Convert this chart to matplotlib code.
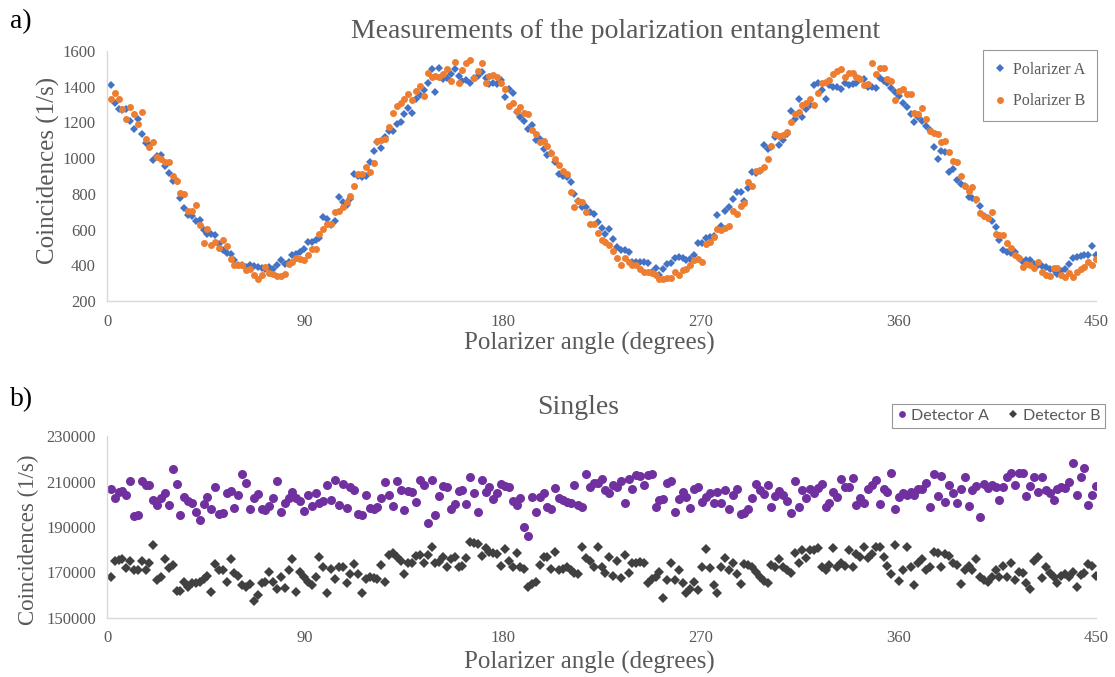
import matplotlib
matplotlib.use("Agg")
import matplotlib.pyplot as plt
import numpy as np


# Polarizer angle grid: 256 equally spaced settings up to 450 degrees
n_angles = 256
angles = np.arange(1, n_angles + 1) * 450.0 / n_angles

# a) coincidences, 1/s
polarizer_a = [
    1408, 1308, 1278, 1270, 1278, 1210, 1166, 1218, 1138, 1084,
    1075, 987, 1010, 1017, 958, 917, 870, 870, 779, 723,
    682, 678, 650, 655, 598, 576, 575, 570, 520, 483,
    470, 464, 430, 399, 399, 390, 399, 395, 393, 385,
    377, 390, 377, 399, 432, 408, 420, 458, 465, 473,
    490, 533, 533, 540, 552, 669, 660, 626, 650, 784,
    753, 740, 771, 911, 900, 892, 900, 980, 1040, 1088,
    1056, 1120, 1153, 1153, 1190, 1203, 1250, 1283, 1255, 1330,
    1352, 1380, 1423, 1501, 1371, 1507, 1442, 1450, 1470, 1498,
    1460, 1432, 1440, 1423, 1450, 1460, 1483, 1450, 1414, 1420,
    1414, 1438, 1340, 1390, 1364, 1260, 1230, 1209, 1162, 1185,
    1103, 1107, 1050, 1017, 1028, 976, 911, 900, 892, 868,
    799, 760, 725, 725, 697, 688, 640, 608, 576, 604,
    548, 501, 488, 488, 477, 418, 418, 420, 418, 414,
    365, 384, 343, 380, 408, 414, 440, 445, 440, 427,
    436, 455, 526, 526, 552, 560, 563, 682, 622, 706,
    725, 770, 812, 812, 762, 831, 920, 917, 930, 1073,
    1051, 1060, 1121, 1073, 1100, 1134, 1265, 1222, 1334, 1228,
    1274, 1300, 1408, 1423, 1380, 1334, 1408, 1401, 1401, 1390,
    1423, 1408, 1415, 1423, 1442, 1442, 1401, 1401, 1395, 1451,
    1430, 1423, 1395, 1371, 1349, 1311, 1289, 1250, 1200, 1233,
    1209, 1180, 1159, 1060, 995, 1041, 1036, 924, 939, 880,
    855, 846, 781, 775, 768, 734, 678, 665, 650, 613,
    539, 483, 477, 470, 473, 440, 418, 427, 427, 410,
    399, 395, 390, 380, 371, 352, 370, 377, 408, 440,
    445, 450, 458, 458, 507, 455,
]

polarizer_b = [
    1334, 1367, 1334, 1278, 1222, 1289, 1246, 1190, 1259, 1107,
    1060, 1092, 1008, 995, 976, 976, 902, 874, 803, 800,
    706, 706, 738, 626, 526, 604, 515, 529, 496, 539,
    507, 436, 399, 399, 399, 371, 377, 347, 321, 343,
    390, 358, 352, 339, 339, 352, 408, 418, 440, 436,
    432, 455, 492, 492, 576, 604, 632, 632, 697, 706,
    725, 755, 790, 842, 911, 911, 948, 924, 972, 1097,
    1100, 1107, 1172, 1255, 1293, 1308, 1330, 1358, 1326, 1377,
    1404, 1349, 1475, 1457, 1460, 1457, 1470, 1498, 1432, 1539,
    1423, 1494, 1535, 1550, 1451, 1488, 1531, 1423, 1460, 1464,
    1457, 1423, 1386, 1293, 1308, 1265, 1289, 1255, 1246, 1159,
    1135, 1088, 1097, 1066, 1030, 995, 960, 930, 911, 809,
    725, 762, 757, 697, 632, 632, 580, 539, 529, 515,
    480, 440, 403, 440, 418, 399, 403, 377, 362, 360,
    358, 347, 321, 321, 330, 328, 365, 347, 371, 380,
    399, 432, 436, 421, 520, 529, 560, 604, 595, 608,
    622, 706, 688, 734, 749, 864, 842, 930, 935, 948,
    995, 1069, 1135, 1125, 1130, 1144, 1203, 1246, 1259, 1297,
    1310, 1330, 1297, 1367, 1420, 1427, 1440, 1470, 1488, 1498,
    1457, 1475, 1479, 1457, 1446, 1408, 1414, 1531, 1470, 1507,
    1507, 1442, 1432, 1326, 1377, 1390, 1358, 1358, 1255, 1246,
    1283, 1218, 1153, 1140, 1135, 1088, 1097, 1032, 986, 976,
    898, 846, 818, 836, 772, 693, 678, 663, 700, 576,
    570, 567, 526, 496, 458, 440, 390, 408, 399, 384,
    418, 365, 347, 339, 384, 384, 343, 334, 358, 334,
    365, 380, 390, 418, 399, 436,
]

# b) singles, 1/s
detector_a = [
    206560, 202900, 205500, 206000, 204070, 210220, 194840, 195280, 210220, 208460,
    208460, 201870, 199680, 202600, 204800, 199680, 215500, 208900, 195280, 203050,
    201580, 200700, 196750, 193080, 200120, 203340, 197770, 207730, 195720, 196010,
    204800, 205970, 198210, 204070, 213300, 209490, 197770, 202600, 204360, 197770,
    197480, 199240, 202900, 210370, 196750, 200700, 202600, 205500, 202600, 201580,
    197040, 204070, 199240, 205100, 200700, 201580, 208460, 201870, 210660, 199680,
    208900, 198210, 207730, 206270,
    195570, 195280, 204070, 198210, 197770, 198940, 202600, 209930, 204070, 199240,
    210220, 206270, 197480, 205970, 205530, 201140, 210660, 208460, 191620, 210660,
    195280, 203630, 208020, 207440, 197770, 200120, 205830, 206270, 200120, 212130,
    204800, 196750, 210660, 205530, 207440, 202170, 205100, 208900, 208020, 207730,
    201580, 199680, 202600, 190150, 186050, 203050, 196750, 203340, 205100, 198940,
    197770, 207290, 202600, 201870, 201140, 200700, 208460, 199680, 198650, 213150,
    207730, 209200, 209490, 210950,
    206270, 205100, 208460, 207730, 210370, 200700, 210950, 206560, 212860, 212420,
    208460, 212860, 213300, 198650, 201870, 202170, 209490, 210370, 196750, 202170,
    205530, 203340, 198210, 206560, 207440, 201140, 203340, 204800, 200410, 205530,
    200410, 206270, 197770, 204070, 206560, 195720, 196310, 197770, 202600, 208900,
    206270, 204510, 208460, 198940, 203630, 205970, 204070, 201430, 196010, 210370,
    198650, 206270, 202600, 206560, 205100, 207000, 208900, 198940, 200700, 205530,
    203050, 210950, 207440, 207440, 211400,
    199680, 202600, 200700, 206560, 208460, 210660, 200120, 206560, 205530, 213880,
    197770, 203340, 204800, 204070, 205530, 204070, 206560, 206560, 209200, 198940,
    213300, 203630, 212420, 201140, 208460, 205100, 200410, 206560, 211840, 199240,
    206270, 208020, 194250, 208900, 207000, 208460, 207440, 201870, 207440, 212130,
    213590, 208460, 213880, 213590, 203630, 208020, 211840, 205530, 211840, 206270,
    205100, 201870, 206560, 207730, 207000, 209930, 218280, 204070, 212130, 215790,
    199680, 204070, 208020,
]

detector_b = [
    168180, 175000, 175500, 175800, 172000, 175000, 171000, 171000, 175000, 171000,
    174000, 182000, 166700, 167900, 176000, 172000, 173300, 162000, 162000, 166000,
    163800, 165200, 165500, 166000, 167000, 168500, 161300, 173600, 171000, 171000,
    166000, 175800, 169600, 168600, 164500, 163800, 165000, 157600, 160100, 165200,
    166000, 170400, 166000, 162600, 168200, 163000, 171000, 175800, 161600, 170400,
    168200, 166000, 164500, 168200, 176700, 172600, 160800, 171400, 167200, 172300,
    172600, 165200, 169400, 173600,
    169350, 161140, 167000, 168180, 167440, 167000, 173300, 165980, 177700, 178430,
    176970, 175210, 169350, 174330, 174040, 177260, 177700, 174040, 177700, 181070,
    174040, 174770, 176970, 172570, 175800, 176670, 172280, 172870, 176240, 183560,
    183120, 182540, 177260, 180630, 179160, 178430, 178140, 172870, 180190, 175210,
    172570, 178430, 172280, 171400, 163790, 164960, 165980, 173300, 176670, 176670,
    171400, 179160, 171110, 171400, 172570, 171110, 169640, 169350, 181360, 176240,
    175210, 172280, 181070, 172280,
    169930, 176970, 168470, 175210, 167440, 177700, 169640, 174330, 174040, 174770,
    174330, 165250, 167000, 168180, 170380, 158660, 166710, 174040, 166710, 171110,
    165540, 160860, 162610, 165980, 162320, 172570, 180190, 171840, 164520, 161140,
    172570, 176240, 171110, 174040, 169350, 164960, 173740, 173300, 172280, 170380,
    168180, 166420, 165540, 173300, 172570, 175800, 172280, 171110, 169930, 178730,
    174040, 179900, 176240, 179900, 179900, 180630, 172280, 171110, 173300, 180630,
    172570, 174040, 172870, 179900, 172570,
    178140, 176970, 181070, 176240, 178140, 181360, 181070, 176970, 172870, 169350,
    182100, 166420, 171110, 181360, 172280, 164520, 174040, 175800, 171110, 172280,
    179160, 178430, 172570, 178140, 177260, 174040, 173300, 164960, 171110, 172870,
    171110, 175800, 168180, 166710, 165980, 168180, 171110, 167880, 172870, 168180,
    174040, 166710, 170380, 169930, 165250, 162610, 175210, 176670, 167440, 172280,
    169640, 168180, 165250, 168470, 169350, 168180, 170380, 163500, 168910, 169640,
    173740, 172870, 168470,
]

for name, values in [("polarizer_a", polarizer_a), ("polarizer_b", polarizer_b),
                     ("detector_a", detector_a), ("detector_b", detector_b)]:
    if len(values) != n_angles:
        raise ValueError(f"{name} has {len(values)} values, expected {n_angles}")

x_ticks = [0, 90, 180, 270, 360, 450]
top_yticks = [200, 400, 600, 800, 1000, 1200, 1400, 1600]
bottom_yticks = [150000, 170000, 190000, 210000, 230000]

serif = "Liberation Serif"
text_grey = "#595959"
axis_grey = "#D9D9D9"

plt.rcParams.update({
    "font.family": serif,
    "font.size": 12,
})

W, H = 1115, 677
fig = plt.figure(figsize=(W / 100, H / 100), dpi=100)


def px_axes(x0, y0, x1, y1):
    # pixel box (top-left origin) -> figure axes
    return fig.add_axes([x0 / W, 1 - y1 / H, (x1 - x0) / W, (y1 - y0) / H])


def style_axes(ax, yticks):
    ax.set_xlim(0, 450)
    ax.set_ylim(yticks[0], yticks[-1])
    ax.set_xticks(x_ticks)
    ax.set_yticks(yticks)
    for side in ("top", "right"):
        ax.spines[side].set_visible(False)
    for side in ("left", "bottom"):
        ax.spines[side].set_color(axis_grey)
        ax.spines[side].set_linewidth(1.0)
    ax.tick_params(length=0, colors=text_grey, labelsize=12, pad=8)
    ax.tick_params(axis="x", pad=9)


# ---------------- a) ----------------
ax_top = px_axes(107, 51, 1096, 301)
ax_top.plot(angles, polarizer_a, linestyle="none", marker="D", markersize=3.6,
            color="#4472C4", markeredgewidth=0, label="Polarizer A")
ax_top.plot(angles, polarizer_b, linestyle="none", marker="o", markersize=5.0,
            color="#ED7D31", markeredgewidth=0, label="Polarizer B")
style_axes(ax_top, top_yticks)

leg = ax_top.legend(loc="upper right", bbox_to_anchor=(1097 / W, 1 - 50 / H),
                    bbox_transform=fig.transFigure, borderaxespad=0,
                    frameon=True, fancybox=False,
                    handlelength=0.6, handletextpad=0.5, labelspacing=0.95,
                    borderpad=0.75, fontsize=11.5, markerscale=1.0)
leg.get_frame().set_edgecolor("#7F7F7F")
leg.get_frame().set_linewidth(0.8)
for t in leg.get_texts():
    t.set_color(text_grey)

fig.text(616 / W, 1 - 32 / H, "Measurements of the polarization entanglement",
         ha="center", va="center", fontsize=20, color=text_grey)
fig.text(589 / W, 1 - 343 / H, "Polarizer angle (degrees)",
         ha="center", va="center", fontsize=18, color=text_grey)
fig.text(48 / W, 1 - 170 / H, "Coincidences (1/s)", rotation=90,
         ha="center", va="center", fontsize=18, color=text_grey)
fig.text(10 / W, 1 - 22 / H, "a)", ha="left", va="center", fontsize=20, color="black")

# ---------------- b) ----------------
ax_bot = px_axes(107, 436, 1096, 618)
ax_bot.plot(angles, detector_a, linestyle="none", marker="o", markersize=6.5,
            color="#7030A0", markeredgewidth=0, label="Detector A")
ax_bot.plot(angles, detector_b, linestyle="none", marker="D", markersize=5.0,
            color="#404040", markeredgewidth=0, label="Detector B")
style_axes(ax_bot, bottom_yticks)

leg2 = ax_bot.legend(loc="upper right", bbox_to_anchor=(1105 / W, 1 - 404 / H),
                     bbox_transform=fig.transFigure, borderaxespad=0,
                     ncol=2, frameon=True,
                     fancybox=False, handlelength=0.6, handletextpad=0.3,
                     columnspacing=1.2, borderpad=0.3,
                     prop={"family": "Lato", "size": 11.5}, markerscale=0.75)
leg2.get_frame().set_edgecolor("#7F7F7F")
leg2.get_frame().set_linewidth(0.8)
for t in leg2.get_texts():
    t.set_color(text_grey)

fig.text(578 / W, 1 - 408 / H, "Singles",
         ha="center", va="center", fontsize=20, color=text_grey)
fig.text(589 / W, 1 - 662 / H, "Polarizer angle (degrees)",
         ha="center", va="center", fontsize=18, color=text_grey)
fig.text(28 / W, 1 - 540 / H, "Coincidences (1/s)", rotation=90,
         ha="center", va="center", fontsize=16.5, color=text_grey)
fig.text(10 / W, 1 - 400 / H, "b)", ha="left", va="center", fontsize=20, color="black")

fig.savefig("out.png", dpi=100)
plt.close(fig)
